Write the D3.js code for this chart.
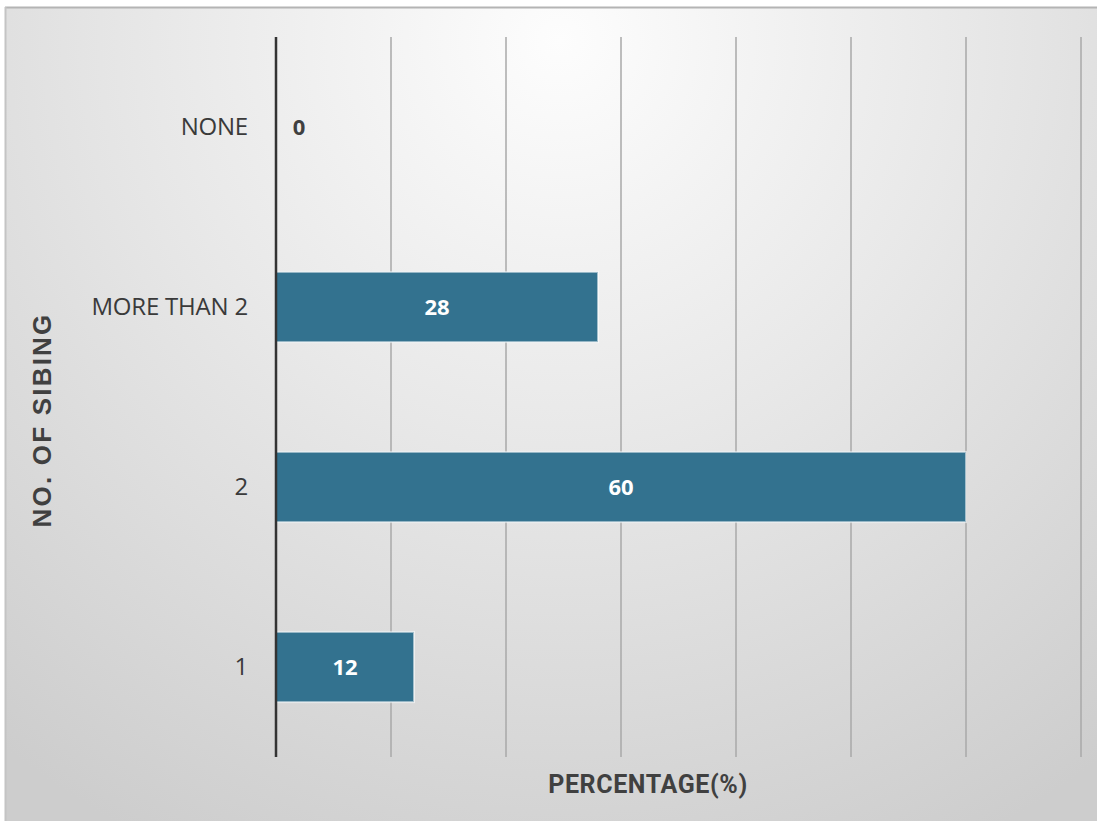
<!DOCTYPE html>
<html>
<head>
<meta charset="utf-8">
<script src="https://cdn.jsdelivr.net/npm/d3@7"></script>
<style>
  html, body { margin: 0; padding: 0; background: #ffffff; }
  svg { display: block; }
</style>
</head>
<body>
<svg id="chart" width="1097" height="821"></svg>
<script>
// Sibling counts, top to bottom
const categories = ["NONE", "MORE THAN 2", "2", "1"];
const percentages = [0, 28, 60, 12];
const xTicks = [0, 10, 20, 30, 40, 50, 60, 70];
const xTitle = "PERCENTAGE(%)";
const yTitle = "NO. OF SIBING";

const svg = d3.select("#chart");
const W = 1097, H = 821;

// Background panel with soft radial shading
const defs = svg.append("defs");
const grad = defs.append("radialGradient")
  .attr("id", "bg")
  .attr("gradientUnits", "userSpaceOnUse")
  .attr("cx", 560).attr("cy", 40).attr("r", 900);
grad.append("stop").attr("offset", "0%").attr("stop-color", "#fdfdfd");
grad.append("stop").attr("offset", "45%").attr("stop-color", "#e8e8e8");
grad.append("stop").attr("offset", "100%").attr("stop-color", "#cdcdcd");

svg.append("rect").attr("x", 0).attr("y", 0).attr("width", W).attr("height", H).attr("fill", "#ffffff");
svg.append("rect")
  .attr("x", 5).attr("y", 7).attr("width", W - 5).attr("height", H - 7)
  .attr("fill", "url(#bg)");
svg.append("line").attr("x1", 5).attr("x2", W).attr("y1", 7.5).attr("y2", 7.5)
  .attr("stroke", "#b4b4b4").attr("stroke-width", 2);
svg.append("line").attr("x1", 5.5).attr("x2", 5.5).attr("y1", 7).attr("y2", H)
  .attr("stroke", "#c4c4c4").attr("stroke-width", 2);

const plot = { left: 276, right: 1081, top: 37, bottom: 757 };

const x = d3.scaleLinear().domain([0, 70]).range([plot.left, plot.right]);
const y = d3.scaleBand().domain(categories).range([plot.top, plot.bottom]).paddingInner(0.61).paddingOuter(0.305);

// Vertical gridlines
svg.append("g")
  .selectAll("line")
  .data(xTicks.filter(d => d > 0))
  .join("line")
  .attr("x1", d => x(d)).attr("x2", d => x(d))
  .attr("y1", plot.top).attr("y2", plot.bottom)
  .attr("stroke", "#a8a8a8").attr("stroke-width", 1.5);

// Bars
svg.append("g")
  .selectAll("rect")
  .data(percentages)
  .join("rect")
  .attr("x", x(0))
  .attr("y", (d, i) => y(categories[i]))
  .attr("width", d => x(d) - x(0))
  .attr("height", y.bandwidth())
  .attr("fill", "#33728f")
  .attr("stroke", d => d > 0 ? "rgba(255,255,255,0.55)" : "none")
  .attr("stroke-width", 2);

// Category axis line
svg.append("line")
  .attr("x1", x(0)).attr("x2", x(0))
  .attr("y1", plot.top).attr("y2", plot.bottom)
  .attr("stroke", "#333333").attr("stroke-width", 2.5);

// Category labels
const yAxis = d3.axisLeft(y).tickSize(0).tickPadding(28);
const yg = svg.append("g").attr("transform", `translate(${x(0)},0)`).call(yAxis);
yg.select(".domain").remove();
yg.selectAll("text")
  .attr("font-family", "'Open Sans', 'DejaVu Sans', sans-serif")
  .attr("font-size", 24)
  .attr("letter-spacing", "-0.2px")
  .attr("fill", "#3a3a3a");

// Value labels
svg.append("g")
  .selectAll("text")
  .data(percentages)
  .join("text")
  .attr("x", d => d > 0 ? (x(0) + x(d)) / 2 : x(0) + 23)
  .attr("y", (d, i) => y(categories[i]) + y.bandwidth() / 2)
  .attr("dy", "0.36em")
  .attr("text-anchor", "middle")
  .attr("font-family", "'Open Sans', 'DejaVu Sans', sans-serif")
  .attr("font-weight", "bold")
  .attr("font-size", 22)
  .attr("fill", d => d > 0 ? "#ffffff" : "#404040")
  .text(d => d);

// Axis titles
svg.append("text")
  .attr("x", 648)
  .attr("y", 793)
  .attr("text-anchor", "middle")
  .attr("font-family", "'Liberation Sans Narrow', 'Roboto', sans-serif")
  .attr("font-weight", "bold")
  .attr("font-size", 25)
  .attr("letter-spacing", "0.6px")
  .attr("fill", "#404040")
  .text(xTitle);

svg.append("text")
  .attr("transform", "translate(51,420) rotate(-90)")
  .attr("text-anchor", "middle")
  .attr("font-family", "'Liberation Sans', Arial, sans-serif")
  .attr("font-weight", "bold")
  .attr("font-size", 26)
  .attr("letter-spacing", "2.2px")
  .attr("fill", "#404040")
  .text(yTitle);
</script>
</body>
</html>
